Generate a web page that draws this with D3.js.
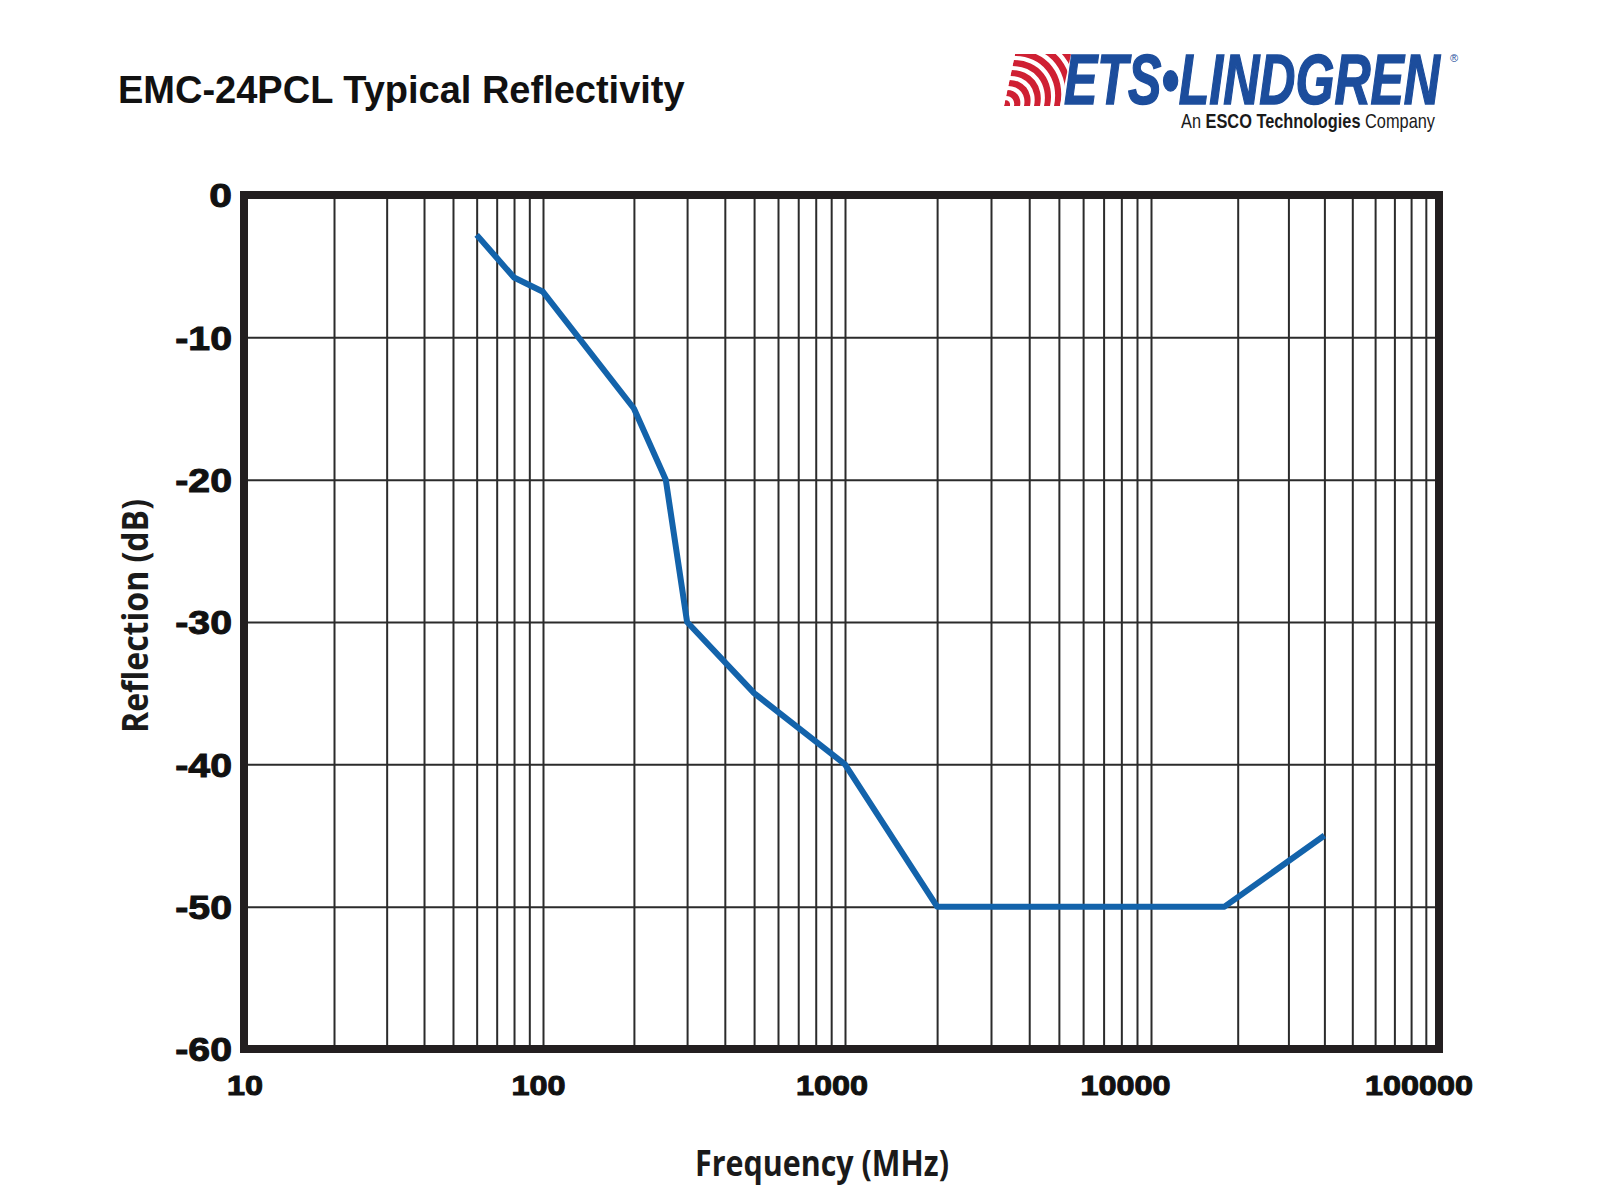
<!DOCTYPE html>
<html>
<head>
<meta charset="utf-8">
<script src="https://cdn.jsdelivr.net/npm/d3@7"></script>
<style>
	body { margin: 0; background: #fff; }
</style>
</head>
<body>
<div id="chart"></div>
<script>
// data
const freqs   = [60, 80, 100, 200, 255, 300, 500, 1000, 2000, 18000, 40000];
const reflect = [-2.8, -5.8, -6.8, -15, -20, -30, -35, -40, -50, -50, -45];
const yTicks  = [0, -10, -20, -30, -40, -50, -60];
const xTicks  = [10, 100, 1000, 10000, 100000];

const W = 1600, H = 1200;
const plot = { left: 244, right: 1439, top: 195, bottom: 1049 };

const ink = "#231f20";
const lineBlue = "#1363ab";

// Arial Black-ish advance widths, used to stretch the bold face
const heavyW = ch => ch === "-" ? 0.333 : 0.667;
const heavyLen = (s, size) => s.split("").reduce((a, c) => a + heavyW(c), 0) * size;

const svg = d3.select("#chart").append("svg")
	.attr("width", W)
	.attr("height", H);

// the printed decades are not quite equal, so the log scale is piecewise per decade
const x = d3.scaleLog()
	.domain(xTicks)
	.range([plot.left, 543, 845, 1151, plot.right]);
const y = d3.scaleLinear().domain([-60, 0]).range([plot.bottom, plot.top]);

// labels under the x axis are spaced evenly in the original, a bit off the grid
const labelX = d3.scaleLinear().domain([1, 5]).range([245, 1419]);

// title
svg.append("text")
	.attr("x", 118).attr("y", 103)
	.attr("font-family", "Liberation Sans, Arial, sans-serif")
	.attr("font-weight", "bold")
	.attr("font-size", 38)
	.attr("fill", "#111")
	.text("EMC-24PCL Typical Reflectivity");

// vertical grid (all log minor lines)
svg.append("g")
	.attr("transform", `translate(0,${plot.bottom})`)
	.call(d3.axisBottom(x).tickValues(x.ticks()).tickSize(-(plot.bottom - plot.top)).tickFormat(""))
	.call(g => g.select(".domain").remove())
	.call(g => g.selectAll("line").attr("stroke", "#2b2b2b").attr("stroke-width", 2));

// horizontal grid
svg.append("g")
	.attr("transform", `translate(${plot.left},0)`)
	.call(d3.axisLeft(y).tickValues(yTicks).tickSize(-(plot.right - plot.left)).tickFormat(""))
	.call(g => g.select(".domain").remove())
	.call(g => g.selectAll("line").attr("stroke", "#2b2b2b").attr("stroke-width", 2));

// the curve
const pts = freqs.map((f, i) => ({ f, v: reflect[i] }));
svg.append("path")
	.datum(pts)
	.attr("d", d3.line().x(d => x(d.f)).y(d => y(d.v)))
	.attr("fill", "none")
	.attr("stroke", lineBlue)
	.attr("stroke-width", 6)
	.attr("stroke-linejoin", "round");

// heavy frame
svg.append("rect")
	.attr("x", plot.left).attr("y", plot.top)
	.attr("width", plot.right - plot.left)
	.attr("height", plot.bottom - plot.top)
	.attr("fill", "none")
	.attr("stroke", ink)
	.attr("stroke-width", 8);

// y tick labels
svg.append("g")
	.selectAll("text")
	.data(yTicks)
	.enter().append("text")
	.attr("x", 232)
	.attr("y", d => y(d))
	.attr("dy", "0.36em")
	.attr("text-anchor", "end")
	.attr("font-family", "Liberation Sans, Arial, sans-serif")
	.attr("font-weight", "bold")
	.attr("font-size", 34)
	.attr("fill", "#111").attr("stroke", "#111").attr("stroke-width", 1)
	.attr("textLength", d => heavyLen(String(d), 34))
	.attr("lengthAdjust", "spacingAndGlyphs")
	.text(d => d);

// x tick labels
svg.append("g")
	.selectAll("text")
	.data(xTicks)
	.enter().append("text")
	.attr("x", d => labelX(Math.log10(d)))
	.attr("y", 1095)
	.attr("text-anchor", "middle")
	.attr("font-family", "Liberation Sans, Arial, sans-serif")
	.attr("font-weight", "bold")
	.attr("font-size", 28)
	.attr("fill", "#111").attr("stroke", "#111").attr("stroke-width", 1)
	.attr("textLength", d => heavyLen(String(d), 27))
	.attr("lengthAdjust", "spacingAndGlyphs")
	.text(d => d);

// axis titles
svg.append("text")
	.attr("x", 822).attr("y", 1176)
	.attr("text-anchor", "middle")
	.attr("font-family", "Open Sans, Noto Sans, sans-serif")
	.attr("font-weight", "bold")
	.attr("font-size", 36)
	.attr("fill", "#1a1a1a")
	.attr("textLength", 254)
	.attr("lengthAdjust", "spacingAndGlyphs")
	.text("Frequency (MHz)");

svg.append("text")
	.attr("transform", "translate(148,616) rotate(-90)")
	.attr("text-anchor", "middle")
	.attr("font-family", "Open Sans, Noto Sans, sans-serif")
	.attr("font-weight", "bold")
	.attr("font-size", 36)
	.attr("fill", "#1a1a1a")
	.attr("textLength", 234)
	.attr("lengthAdjust", "spacingAndGlyphs")
	.text("Reflection (dB)");

// logo
const logoRed = "#cf2033", logoBlue = "#1c4d9c";
const waves = svg.append("g").attr("transform", "translate(1004,106) skewX(-12)");
waves.append("clipPath").attr("id", "waveClip")
	.append("rect").attr("x", 0).attr("y", -52).attr("width", 56).attr("height", 52);
const bands = [[0, 6], [10, 16], [20, 26], [30, 36], [40, 46], [50, 56], [60, 66], [70, 76]];
waves.append("g").attr("clip-path", "url(#waveClip)")
	.selectAll("path")
	.data(bands)
	.enter().append("path")
	.attr("d", d => d3.arc()({ innerRadius: d[0], outerRadius: d[1], startAngle: 0, endAngle: Math.PI / 2 }))
	.attr("fill", logoRed);

svg.append("text")
	.attr("x", 1064).attr("y", 104)
	.attr("font-family", "Liberation Sans Narrow, Liberation Sans, Arial, sans-serif")
	.attr("font-weight", "bold")
	.attr("font-style", "italic")
	.attr("font-size", 70)
	.attr("fill", logoBlue).attr("stroke", logoBlue).attr("stroke-width", 1.5)
	.attr("textLength", 376)
	.attr("lengthAdjust", "spacingAndGlyphs")
	.text("ETS\u2022LINDGREN");

svg.append("text")
	.attr("x", 1450).attr("y", 62)
	.attr("font-family", "Liberation Sans, Arial, sans-serif")
	.attr("font-size", 11)
	.attr("fill", logoBlue)
	.text("\u00ae");

const sub = svg.append("text")
	.attr("x", 1181).attr("y", 128)
	.attr("font-family", "Liberation Sans Narrow, Liberation Sans, Arial, sans-serif")
	.attr("font-size", 21)
	.attr("fill", "#1a1a1a")
	.attr("textLength", 254)
	.attr("lengthAdjust", "spacingAndGlyphs");
sub.append("tspan").text("An ");
sub.append("tspan").attr("font-weight", "bold").text("ESCO Technologies");
sub.append("tspan").text(" Company");
</script>
</body>
</html>
